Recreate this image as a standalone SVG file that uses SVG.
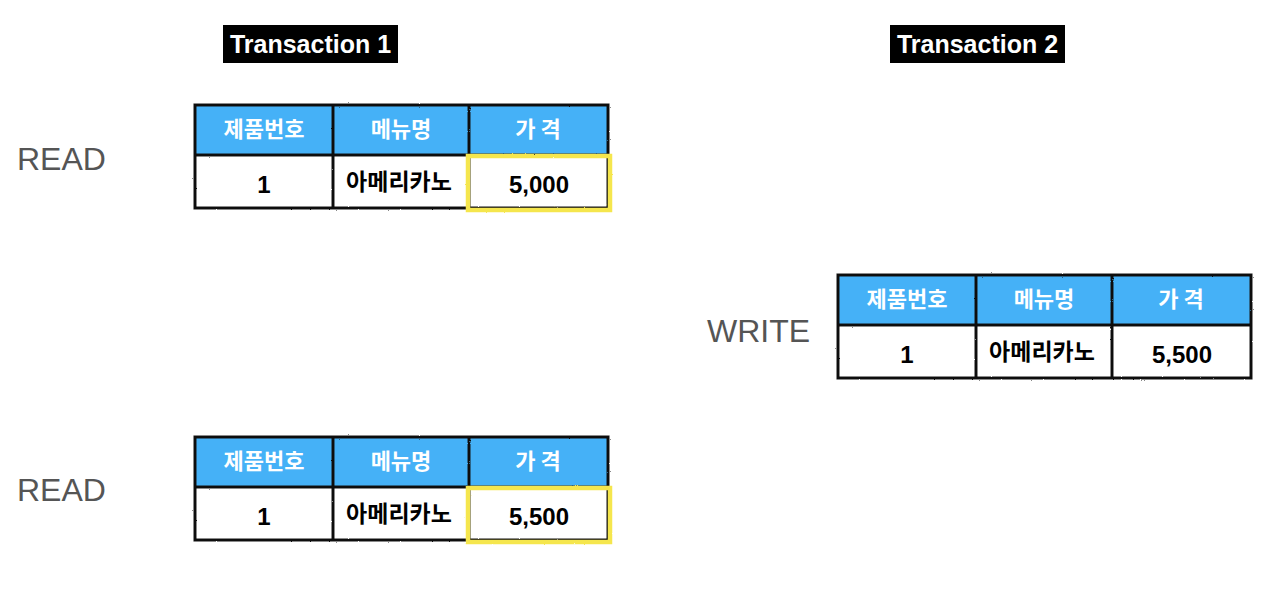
<svg xmlns="http://www.w3.org/2000/svg" width="1280" height="603" viewBox="0 0 1280 603">
<style>
.bg{fill:#ffffff}
.tagbox{fill:#000000}
.tag{font-family:"Liberation Sans","Noto Sans CJK KR",sans-serif;font-weight:bold;font-size:25px;fill:#ffffff;text-anchor:middle}
.op{font-family:"Liberation Sans",Arial,sans-serif;font-size:32px;fill:#555555}
.hdr{fill:#45b1f7}
.cell{fill:#ffffff}
.grid{fill:none;stroke:#111111;stroke-width:3}
.hl{fill:none;stroke:#f5e64e;stroke-width:4.5}
.ht{font-family:"Noto Sans CJK KR","Liberation Sans",sans-serif;font-weight:bold;font-size:22px;fill:#ffffff;text-anchor:middle}
.bt{font-family:"Liberation Sans","Noto Sans CJK KR",sans-serif;font-weight:bold;font-size:24px;fill:#000000;text-anchor:middle}
.bk{font-family:"Noto Sans CJK KR","Liberation Sans",sans-serif;font-weight:bold;font-size:23px;fill:#000000;text-anchor:middle}
</style>
<defs>
<filter id="rough" x="-5%" y="-5%" width="110%" height="110%">
<feTurbulence type="fractalNoise" baseFrequency="0.9" numOctaves="1" seed="3" result="n"/>
<feDisplacementMap in="SourceGraphic" in2="n" scale="2"/>
</filter>
<g id="tbl">
<rect class="hdr" x="0" y="0" width="413" height="50"/>
<rect class="cell" x="0" y="50" width="413" height="53"/>
<g filter="url(#rough)">
<rect class="grid" x="0" y="0" width="413" height="103"/>
<line class="grid" x1="0" y1="50" x2="413" y2="50"/>
<line class="grid" x1="138" y1="0" x2="138" y2="103"/>
<line class="grid" x1="274" y1="0" x2="274" y2="103"/>
</g>
<text class="ht" x="69" y="32">제품번호</text>
<text class="ht" x="206" y="32">메뉴명</text>
<text class="ht" x="343" y="32">가 격</text>
<text class="bt" x="69" y="88">1</text>
<text class="bk" x="204" y="85">아메리카노</text>
</g>
</defs>
<rect class="bg" x="0" y="0" width="1280" height="603"/>

<g id="transaction1-label">
<rect class="tagbox" x="223" y="25" width="175" height="38"/>
<text class="tag" x="310.5" y="53">Transaction 1</text>
</g>
<g id="transaction2-label">
<rect class="tagbox" x="890" y="25" width="175" height="38"/>
<text class="tag" x="977.5" y="53">Transaction 2</text>
</g>

<g id="read1">
<text class="op" x="17" y="170">READ</text>
<use href="#tbl" x="195" y="105"/>
<rect class="hl" x="468" y="156" width="142" height="54" filter="url(#rough)"/>
<text class="bt" x="539" y="193">5,000</text>
</g>

<g id="write">
<text class="op" x="707" y="342">WRITE</text>
<use href="#tbl" x="838" y="275"/>
<text class="bt" x="1182" y="363">5,500</text>
</g>

<g id="read2">
<text class="op" x="17" y="501">READ</text>
<use href="#tbl" x="195" y="437"/>
<rect class="hl" x="468" y="488" width="142" height="54" filter="url(#rough)"/>
<text class="bt" x="539" y="525">5,500</text>
</g>

<g id="connectors"/>
</svg>
